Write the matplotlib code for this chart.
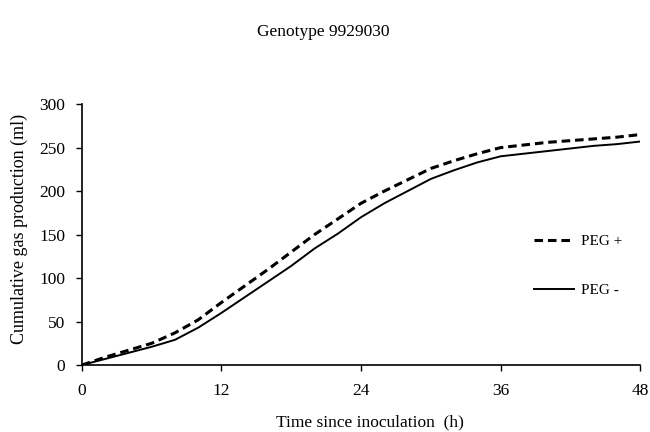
import matplotlib
matplotlib.use("Agg")
import matplotlib.pyplot as plt

# Incubation time (h) and cumulative gas production (ml)
hours = [0, 2, 4, 6, 8, 10, 12, 14, 16, 18, 20, 22, 24,
         26, 28, 30, 32, 34, 36, 38, 40, 42, 44, 46, 48]
peg_plus = [0, 9, 17, 25, 37, 52, 72, 91, 110, 130, 150, 168, 186,
            200, 213, 226, 235, 243, 250, 253, 256, 258, 260, 262, 265]
peg_minus = [0, 7, 14, 21, 29, 43, 60, 78, 96, 114, 134, 151, 170,
             186, 200, 214, 224, 233, 240, 243, 246, 249, 252, 254, 257]

x_ticks = [0, 12, 24, 36, 48]
y_ticks = [0, 50, 100, 150, 200, 250, 300]

plt.rcParams['font.family'] = ['Liberation Serif', 'DejaVu Serif']
plt.rcParams['font.size'] = 11

fig = plt.figure(figsize=(6.5, 4.32), dpi=100)
ax = fig.add_axes([0.126, 0.155, 0.859, 0.604])

ax.plot(hours, peg_plus, color='black', lw=2.2, dashes=(2.8, 1.6),
        label='PEG +')
ax.plot(hours, peg_minus, color='black', lw=1.4, label='PEG -')

ax.set_xlim(0, 48)
ax.set_ylim(0, 300)
ax.set_xticks(x_ticks)
ax.set_yticks(y_ticks)
ax.tick_params(axis='both', direction='out', length=4, width=1,
               labelsize=12.5)
ax.tick_params(axis='x', pad=9)
ax.tick_params(axis='y', pad=8)
for side in ('top', 'right'):
    ax.spines[side].set_visible(False)
for side in ('left', 'bottom'):
    ax.spines[side].set_linewidth(1.2)

ax.set_xlabel('Time since inoculation  (h)', fontsize=12.5)
ax.set_ylabel('Cumulative gas production (ml)', fontsize=13)
ax.xaxis.set_label_coords(0.515, -0.19)
ax.yaxis.set_label_coords(-0.097, 0.52)
fig.text(0.497, 0.925, 'Genotype 9929030', ha='center', va='center',
         fontsize=12.5)

ax.legend(frameon=False, loc='center left', bbox_to_anchor=(0.785, 0.38),
          handlelength=2.6, labelspacing=2.3, handletextpad=0.5,
          fontsize=11)

fig.savefig('out.png', dpi=100)
